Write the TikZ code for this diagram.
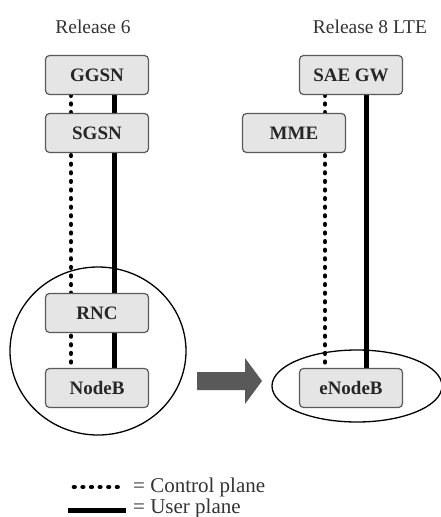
\documentclass[tikz,border=0pt]{standalone}
\usepackage{fontspec}
\setmainfont{Liberation Serif}
\usetikzlibrary{backgrounds,shapes.geometric}
\begin{document}
\begin{tikzpicture}[x=1pt,y=-1pt,
  box/.style={draw=black!65,line width=1.2pt,fill=black!10,rounded corners=4pt,
    minimum width=103pt,minimum height=39pt,inner sep=0pt,
    font=\fontsize{19}{21}\selectfont\bfseries,text=black!85},
  title/.style={font=\fontsize{19.5}{21}\selectfont,text=black!80},
  legtext/.style={font=\fontsize{21}{23}\selectfont,text=black!80,anchor=west,inner sep=0pt},
  userplane/.style={line width=5pt},
  ctrlplane/.style={line width=4.6pt,line cap=round,dash pattern=on 0.6pt off 8pt},
  ring/.style={draw=black,line width=1.3pt}]
\useasboundingbox (0,0) rectangle (441,517);
% titles
\node[title] (t6) at (93,27) {Release 6};
\node[title] (t8) at (370,27) {Release 8 LTE};
% Release 6 boxes
\node[box] (ggsn) at (97,75) {GGSN};
\node[box] (sgsn) at (97,133) {SGSN};
\node[box] (rnc) at (97,313) {RNC};
\node[box] (nodeb) at (97,388) {NodeB};
% LTE boxes
\node[box] (saegw) at (351,75) {SAE GW};
\node[box] (mme) at (294,133) {MME};
\node[box] (enodeb) at (351,388) {eNodeB};
% line positions
\coordinate (c6) at (71,0);
\coordinate (u6) at (114,0);
\coordinate (c8) at (325,0);
\coordinate (u8) at (366,0);
\begin{pgfonlayer}{background}
  \draw[userplane] (ggsn.south -| u6) -- (nodeb.north -| u6);
  \draw[ctrlplane] (ggsn.south -| c6) -- (nodeb.north -| c6);
  \draw[userplane] (saegw.south -| u8) -- (enodeb.north -| u8);
  \draw[ctrlplane] (saegw.south -| c8) -- (enodeb.north -| c8);
\end{pgfonlayer}
% groupings
\node[ring,ellipse,minimum width=176pt,minimum height=168pt,inner sep=0pt] (cir) at (98,351) {};
\node[ring,ellipse,minimum width=170pt,minimum height=72pt,inner sep=0pt] (ell) at (357,386) {};
% evolution arrow
\fill[black!65] (197,372) -- (245,372) -- (245,358) -- (262,381) -- (245,404) -- (245,390) -- (197,390) -- cycle;
% legend
\coordinate (la) at (74,487);
\coordinate (lb) at (125,487);
\coordinate (lc) at (68,510);
\coordinate (ld) at (126,510);
\draw[ctrlplane] (la) -- (lb);
\draw[userplane] (lc) -- (ld);
\node[legtext] (lt1) at (133,487) {= Control plane};
\node[legtext] (lt2) at (133,508) {= User plane};
\end{tikzpicture}
\end{document}
